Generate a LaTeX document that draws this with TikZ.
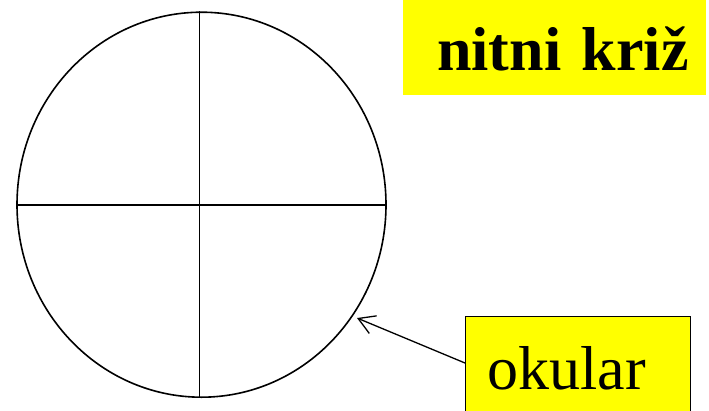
\documentclass[tikz,border=0pt]{standalone}
\usepackage{fontspec}
\setmainfont{Liberation Serif}
\usetikzlibrary{arrows.meta,shapes.geometric}
\definecolor{hl}{RGB}{255,255,0}
\tikzset{
  lbl/.style={font=\fontsize{62}{70}\selectfont, inner sep=0pt, align=left, anchor=north west},
  crossline/.style={line width=1.6pt},
}
\begin{document}
\begin{tikzpicture}[x=1pt,y=-1pt]
\clip (0,0) rectangle (709,410);
\fill[white] (0,0) rectangle (709,410);
\node[draw, crossline, ellipse, minimum width=369pt, minimum height=385pt, inner sep=0pt] (eye) at (201.5,204.7) {};
\draw[crossline] (eye.west) -- (eye.east);
\draw[crossline] ([xshift=-2pt]eye.north) -- ([xshift=-2pt]eye.south);
\node[lbl, fill=hl, text width=303pt, text height=70pt, text depth=25pt, font=\fontsize{62}{70}\selectfont\bfseries] (title) at (403,0) {\hspace*{34pt}nitni križ};
\node[lbl, fill=hl, draw, line width=1pt, text width=225pt, text height=73pt, text depth=30pt] (okular) at (465,316) {\hspace*{22pt}okular};
\coordinate (tip) at (357,318);
\coordinate (start) at ([yshift=-47pt]okular.north west);
\draw[line width=1.3pt, -{Straight Barb[length=16pt,width=19pt]}] (start) -- (tip);
\end{tikzpicture}
\end{document}
